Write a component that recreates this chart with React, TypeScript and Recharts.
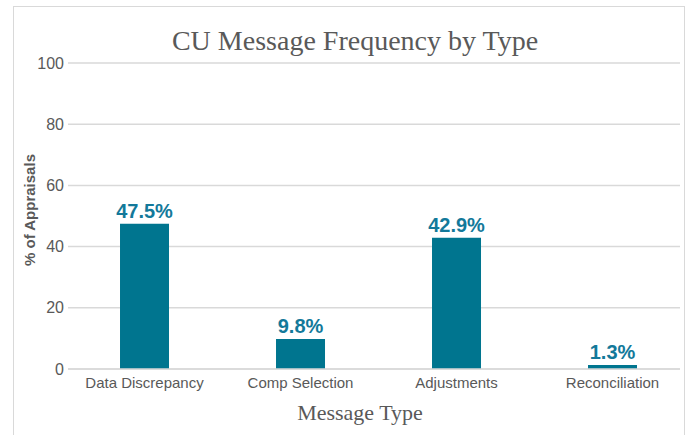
import React from "react";
import { BarChart, Bar, XAxis, YAxis, CartesianGrid, LabelList } from "recharts";

const categories = ["Data Discrepancy", "Comp Selection", "Adjustments", "Reconciliation"];
const percentages = [47.5, 9.8, 42.9, 1.3];
const yTicks = [0, 20, 40, 60, 80, 100];

const data = categories.map((name, i) => ({ name, value: percentages[i] }));

export default function App() {
  return (
    <div style={{ position: "absolute", left: 0, top: 0, width: 690, height: 435, background: "#fff", overflow: "hidden" }}>
      <div style={{ position: "absolute", left: 13, top: 6, width: 672, height: 440, border: "1px solid #d9d9d9", boxSizing: "border-box" }} />
      <div
        style={{
          position: "absolute",
          left: 55,
          width: 600,
          top: 25,
          textAlign: "center",
          fontFamily: "'Liberation Serif', serif",
          fontSize: 28,
          color: "#595959",
          lineHeight: "32px",
          whiteSpace: "nowrap",
        }}
      >
        CU Message Frequency by Type
      </div>
      <div
        style={{
          position: "absolute",
          left: 260,
          width: 200,
          top: 400,
          textAlign: "center",
          fontFamily: "'Liberation Serif', serif",
          fontSize: 22,
          color: "#595959",
          lineHeight: "26px",
          whiteSpace: "nowrap",
        }}
      >
        Message Type
      </div>
      <div
        style={{
          position: "absolute",
          left: 30 - 80,
          top: 210 - 10,
          width: 160,
          height: 20,
          lineHeight: "20px",
          textAlign: "center",
          transform: "rotate(-90deg)",
          fontFamily: "'Liberation Sans', Arial, sans-serif",
          fontSize: 15,
          fontWeight: "bold",
          color: "#595959",
          whiteSpace: "nowrap",
        }}
      >
        % of Appraisals
      </div>
      <div style={{ position: "absolute", left: 0, top: 0 }}>
        <BarChart width={690} height={435} data={data} margin={{ top: 63, right: 10, bottom: 36, left: 8 }} barCategoryGap="34.3%">
          <CartesianGrid vertical={false} stroke="#d9d9d9" strokeWidth={1.5} />
          <XAxis
            dataKey="name"
            axisLine={{ stroke: "#d9d9d9", strokeWidth: 1.5 }}
            tickLine={false}
            tickSize={0}
            tickMargin={8}
            height={30}
            padding={{ left: -1.5, right: -10.5 }}
            tick={{ fill: "#595959", fontSize: 15, fontFamily: "'Liberation Sans', Arial, sans-serif" }}
            interval={0}
          />
          <YAxis
            domain={[0, 100]}
            ticks={yTicks}
            axisLine={false}
            tickLine={false}
            tickSize={0}
            tickMargin={4}
            width={60}
            tick={{ fill: "#595959", fontSize: 16, fontFamily: "'Liberation Sans', Arial, sans-serif" }}
          />
          <Bar dataKey="value" fill="#00758f" isAnimationActive={false}>
            <LabelList
              dataKey="value"
              position="top"
              offset={6}
              formatter={(v: number) => `${v}%`}
              style={{ fill: "#13799a", fontSize: 20, fontWeight: "bold", fontFamily: "'Liberation Sans', Arial, sans-serif" }}
            />
          </Bar>
        </BarChart>
      </div>
    </div>
  );
}
